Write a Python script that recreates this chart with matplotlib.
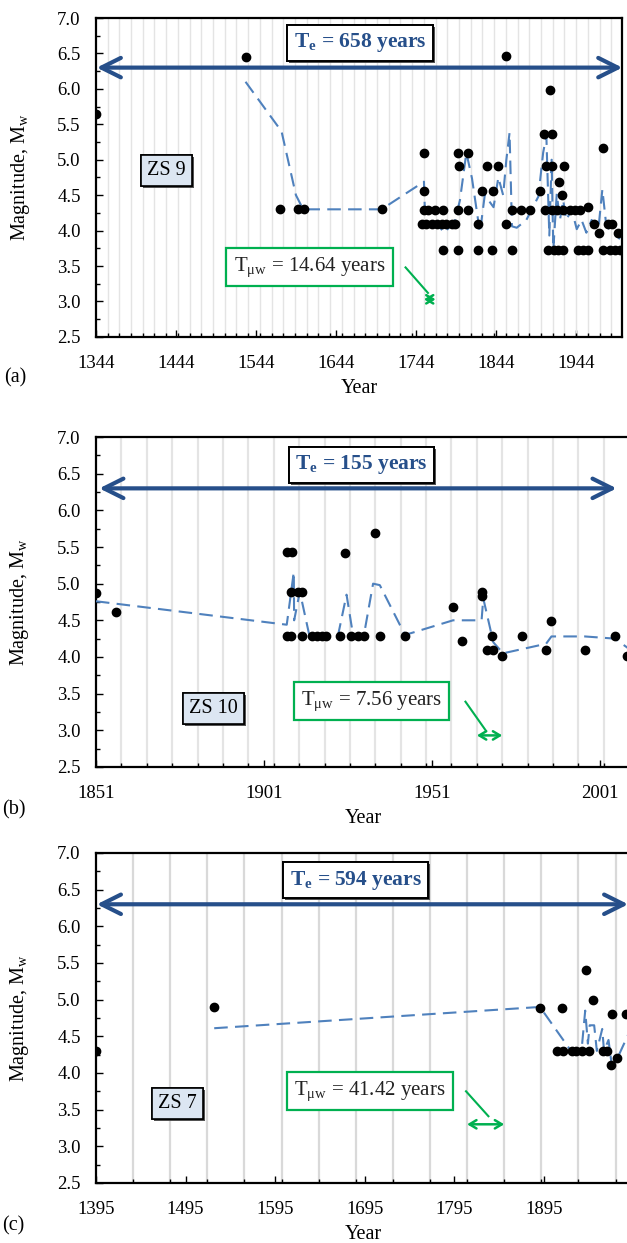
import numpy as np
import matplotlib.pyplot as plt
import matplotlib.patheffects as pe
from matplotlib.ticker import MultipleLocator, FixedLocator

plt.rcParams['font.family'] = ['Liberation Serif', 'DejaVu Serif']
plt.rcParams['mathtext.fontset'] = 'custom'
plt.rcParams['mathtext.rm'] = 'Liberation Serif'
plt.rcParams['mathtext.it'] = 'Liberation Serif:italic'
plt.rcParams['mathtext.bf'] = 'Liberation Serif:bold'

# Zona sismica 9: sismos (año, magnitud)
anios_zs9 = [1344, 1531, 1574, 1597, 1604, 1701,
             1754, 1754, 1754, 1759, 1768, 1778,
             1752, 1757, 1764, 1770, 1776, 1782, 1789, 1793,
             1778, 1797, 1797, 1809, 1798, 1797, 1809,
             1821, 1821, 1839, 1827, 1840, 1833, 1846,
             1857, 1857, 1864, 1864, 1875, 1887,
             1899, 1904, 1914, 1911.5, 1906, 1914, 1929, 1923, 1926,
             1905, 1914, 1920, 1928, 1936, 1943, 1949, 1959,
             1909, 1916, 1922, 1928, 1947, 1953, 1959,
             1966, 1973, 1978, 1978, 1984, 1989, 1986, 1993, 1997, 1999, 2002]
mags_zs9 = [5.65, 6.45, 4.3, 4.3, 4.3, 4.3,
            5.1, 4.56, 4.29, 4.29, 4.29, 4.29,
            4.09, 4.09, 4.09, 4.09, 4.09, 4.09, 4.09, 4.09,
            3.73, 3.73, 5.1, 5.1, 4.91, 4.29, 4.29,
            4.09, 3.73, 3.73, 4.56, 4.56, 4.91, 4.91,
            6.46, 4.09, 3.73, 4.29, 4.29, 4.29,
            4.56, 5.37, 5.37, 5.99, 4.91, 4.91, 4.91, 4.69, 4.5,
            4.29, 4.29, 4.29, 4.29, 4.29, 4.29, 4.29, 4.33,
            3.73, 3.73, 3.73, 3.73, 3.73, 3.73, 3.73,
            4.09, 3.97, 5.17, 3.73, 4.09, 4.09, 3.73, 3.73, 3.97, 3.73, 3.73]
anios_prom_zs9 = [1531, 1576, 1594, 1603, 1701, 1754, 1755, 1765, 1780, 1793,
                  1799, 1807, 1814, 1824, 1830, 1841, 1847, 1853, 1857, 1861,
                  1864, 1870, 1882, 1897, 1903, 1907, 1910.7, 1913.6, 1915.7, 1920,
                  1924, 1928, 1932, 1938.6, 1945, 1951, 1957, 1963.6, 1972, 1977,
                  1982, 1990.7, 1999]
mags_prom_zs9 = [6.1, 5.4, 4.5, 4.3, 4.3, 4.69, 4.33, 4.14, 3.97, 4.15,
                 4.43, 5.1, 4.74, 3.97, 4.5, 4.33, 4.75, 4.5, 5.0, 5.38,
                 4.06, 4.04, 4.15, 4.48, 5.1, 5.34, 3.93, 5.0, 3.73, 4.52,
                 4.15, 4.43, 4.15, 4.3, 4.02, 4.15, 3.97, 4.15, 4.02, 4.58,
                 4.06, 3.97, 3.88]

# Zona sismica 10
anios_zs10 = [1851, 1857, 1907.8, 1909.3, 1925.1, 1934,
              1909.2, 1911.1, 1912.2,
              1907.8, 1909, 1912.2, 1915.2, 1916.7, 1918.2, 1919.5, 1923.8,
              1926.8, 1928.9, 1930.7, 1935.7, 1943,
              1957.3, 1960.1, 1965.8, 1965.8, 1969, 1967.3, 1969.3, 1972,
              1977.9, 1985, 1986.6, 1996.5, 2005.5, 2009]
mags_zs10 = [4.87, 4.62, 5.43, 5.43, 5.42, 5.69,
             4.89, 4.89, 4.89,
             4.29, 4.29, 4.29, 4.29, 4.29, 4.29, 4.29, 4.29,
             4.29, 4.29, 4.29, 4.29, 4.29,
             4.68, 4.22, 4.89, 4.83, 4.29, 4.09, 4.09, 4.02,
             4.29, 4.09, 4.49, 4.09, 4.29, 4.02]
anios_prom_zs10 = [1851, 1907.8, 1909.9, 1910, 1911.7, 1914.5, 1923, 1925.6,
                   1927.6, 1930.7, 1933.5, 1935.5, 1943, 1957.3, 1965.8, 1966.3,
                   1969.3, 1972.2, 1985, 1986.6, 1996.5, 2005.5, 2010]
mags_prom_zs10 = [4.76, 4.44, 5.16, 4.5, 4.89, 4.3, 4.28, 4.85,
                  4.28, 4.28, 5.0, 4.98, 4.3, 4.5, 4.5, 4.8,
                  4.2, 4.05, 4.18, 4.28, 4.28, 4.25, 4.1]

# Zona sismica 7
anios_zs7 = [1395, 1527, 1890.5, 1914.7, 1942, 1949.3, 1970.5, 1987,
             1910, 1916, 1926, 1931, 1937, 1945, 1961, 1965,
             1970, 1977]
mags_zs7 = [4.3, 4.9, 4.89, 4.89, 5.4, 4.99, 4.8, 4.8,
            4.3, 4.3, 4.3, 4.3, 4.3, 4.3, 4.3, 4.3,
            4.11, 4.21]
anios_prom_zs7 = [1527, 1890.5, 1924, 1937, 1941, 1944, 1946, 1951, 1954,
                  1960, 1962, 1967, 1970.5, 1975, 1990]
mags_prom_zs7 = [4.61, 4.9, 4.32, 4.32, 4.85, 4.4, 4.65, 4.65, 4.3,
                 4.6, 4.3, 4.45, 4.12, 4.15, 4.55]

# Periodo total y periodo de retorno medio de cada zona
te_zonas = [658, 155, 594]
tmu_zonas = [14.64, 7.56, 41.42]

AZUL_OSCURO = '#264f8a'
AZUL_LINEA = '#4f81bd'
VERDE = '#00b050'


def sombra(caja):
    caja.set_path_effects([pe.withSimplePatchShadow(offset=(1.5, -1.5), shadow_rgbFace='0.25', alpha=0.9),
                           pe.Normal()])


def graficar_zona(ax, anios, mags, anios_prom, mags_prom, inicio, te, tmu, x_max, paso_ticks,
                  etiqueta_zs, pos_zs, pos_te, pos_tmu, linea_tmu, k_flecha, y_flecha, letra):
    fin = inicio + te
    ax.set_xlim(inicio, x_max)
    ax.set_ylim(2.5, 7.0)

    # lineas verticales cada periodo de retorno medio
    rejilla = np.arange(inicio, x_max, tmu)
    ax.xaxis.set_minor_locator(FixedLocator(rejilla))
    if tmu < 20:
        ax.grid(which='minor', axis='x', color='#e4e4e4', lw=1.0 if tmu > 10 else 1.6, zorder=0)
    else:
        ax.grid(which='minor', axis='x', color='#d9d9d9', lw=1.6, zorder=0)
    ax.set_xticks(np.arange(inicio, x_max, paso_ticks))
    ax.yaxis.set_major_locator(MultipleLocator(0.5))
    ax.yaxis.set_minor_locator(MultipleLocator(0.25))
    ax.yaxis.set_major_formatter(plt.FormatStrFormatter('%.1f'))
    ax.tick_params(which='both', direction='in', labelsize=13.5)
    ax.tick_params(which='major', length=5, width=1)
    ax.tick_params(which='minor', length=3, width=1)
    ax.tick_params(axis='x', pad=13)
    ax.tick_params(axis='y', pad=11)
    for lado in ax.spines.values():
        lado.set_linewidth(1.6)

    ax.plot(anios_prom, mags_prom, color=AZUL_LINEA, lw=1.5, dashes=(6.5, 3.5), zorder=3)
    ax.plot(anios, mags, 'o', color='black', ms=6, zorder=4, clip_on=True)

    # flecha del periodo total
    ax.annotate('', xy=(fin, 6.3), xytext=(inicio + 1, 6.3),
                arrowprops=dict(arrowstyle='<->,head_length=0.7,head_width=0.35', color=AZUL_OSCURO,
                                lw=3, mutation_scale=20, shrinkA=0, shrinkB=0), zorder=5)
    t = ax.text(pos_te[0], pos_te[1], r'T$_\mathbf{e}$ = %d years' % te, ha='center', va='center',
                fontsize=15.5, fontweight='bold', color=AZUL_OSCURO, zorder=6,
                bbox=dict(boxstyle='square,pad=0.3', fc='white', ec='black', lw=1.4))
    sombra(t.get_bbox_patch())

    # caja con el periodo de retorno medio
    ax.text(pos_tmu[0], pos_tmu[1], r'T$_\mathregular{\mu w}$ = %.2f years' % tmu, ha='center', va='center',
            fontsize=15, color='#222222', zorder=6,
            bbox=dict(boxstyle='square,pad=0.35', fc='white', ec=VERDE, lw=1.6))
    ax.plot([linea_tmu[0], linea_tmu[2]], [linea_tmu[1], linea_tmu[3]], color=VERDE, lw=1.5, zorder=5)
    x0 = inicio + k_flecha * tmu
    ax.annotate('', xy=(x0 + tmu, y_flecha), xytext=(x0, y_flecha),
                arrowprops=dict(arrowstyle='<->,head_length=0.5,head_width=0.3', color=VERDE,
                                lw=1.8, mutation_scale=10, shrinkA=0, shrinkB=0), zorder=5)

    # etiqueta de la zona
    z = ax.text(pos_zs[0], pos_zs[1], etiqueta_zs, ha='center', va='center', fontsize=14.5, zorder=6,
                bbox=dict(boxstyle='square,pad=0.3', fc='#dce6f2', ec='black', lw=1.2))
    sombra(z.get_bbox_patch())

    ax.set_ylabel(r'Magnitude, M$_\mathregular{w}$', fontsize=14.5)
    ax.yaxis.set_label_coords(-0.122, 0.5)
    ax.set_xlabel('Year', fontsize=14.5, labelpad=5)
    ax.text(-0.175, -0.13, letra, transform=ax.transAxes, fontsize=14.5, ha='left', va='center')


fig = plt.figure(figsize=(6.27, 12.43), dpi=100)

ax_a = fig.add_axes([0.153, 0.729, 0.8396, 0.2565])
graficar_zona(ax_a, anios_zs9, mags_zs9, anios_prom_zs9, mags_prom_zs9, 1344, te_zonas[0], tmu_zonas[0],
              2002, 100, 'ZS 9', (1432, 4.85), (1674, 6.65), (1611, 3.48),
              (1731, 3.48, 1759, 3.12), 28, 3.03, '(a)')

ax_b = fig.add_axes([0.153, 0.383, 0.8519, 0.2654])
graficar_zona(ax_b, anios_zs10, mags_zs10, anios_prom_zs10, mags_prom_zs10, 1851, te_zonas[1], tmu_zonas[1],
              2010, 50, 'ZS 10', (1886, 3.3), (1930, 6.62), (1933, 3.4),
              (1961, 3.39, 1967, 3.0), 15, 2.93, '(b)')

ax_c = fig.add_axes([0.153, 0.0483, 0.8518, 0.2655])
graficar_zona(ax_c, anios_zs7, mags_zs7, anios_prom_zs7, mags_prom_zs7, 1395, te_zonas[2], tmu_zonas[2],
              1991, 100, 'ZS 7', (1486, 3.58), (1685, 6.63), (1701, 3.75),
              (1808, 3.75, 1833, 3.41), 10, 3.3, '(c)')

fig.savefig('out.png', dpi=100)
